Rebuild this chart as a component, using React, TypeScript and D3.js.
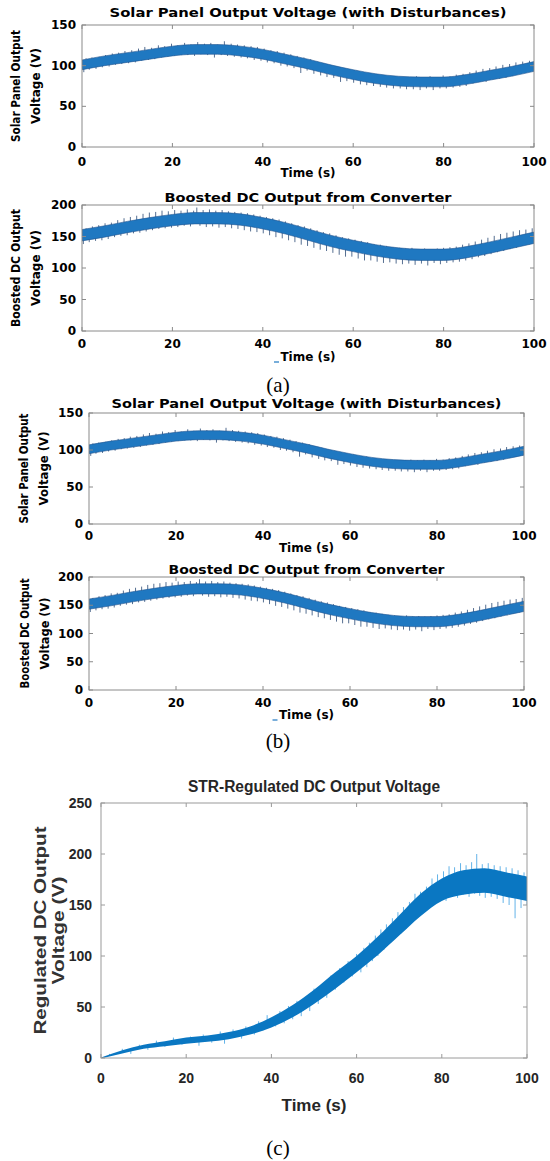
import React, { useRef, useEffect } from "react";
import * as d3 from "d3";

const timeSteps = [0, 5, 10, 15, 20, 25, 30, 35, 40, 45, 50, 55, 60, 65, 70, 75, 80, 85, 90, 95, 100];

const solarMid = [101, 106, 110, 114, 118, 120, 120, 118, 114, 108, 102, 95, 89, 84, 81, 80, 80, 83, 88, 93, 99];
const solarSpread = [6, 6, 6, 6, 6, 6, 6, 6, 6, 6, 6, 6, 6, 6, 6, 6, 6, 6, 6, 6, 6];
// visible noise peaks [t, V]
const solarSpikes = [
  [0.4, 92], [0.9, 109], [1.6, 95], [2.2, 110], [3.1, 96], [3.8, 111], [4.5, 98], [5.2, 113], [6.0, 99], [6.7, 115],
  [7.4, 101], [8.1, 116], [8.8, 102], [9.5, 118], [10.3, 103], [11.0, 119], [11.8, 104], [12.5, 121], [13.2, 106], [13.9, 123],
  [14.7, 107], [15.4, 122], [16.1, 108], [16.9, 125], [17.6, 110], [18.3, 124], [19.0, 111], [19.8, 127], [20.5, 112], [21.2, 125],
  [22.0, 113], [22.7, 128], [23.4, 113], [24.1, 126], [24.9, 112], [25.6, 129], [26.3, 114], [27.1, 127], [27.8, 113], [28.5, 128],
  [29.3, 110], [30.0, 126], [30.8, 113], [31.5, 130], [32.2, 112], [33.0, 127], [33.7, 111], [34.4, 126], [35.2, 110], [35.9, 125],
  [36.6, 109], [37.4, 124], [38.1, 107], [38.8, 123], [39.6, 106], [40.3, 121], [41.0, 104], [41.8, 119], [42.5, 103], [43.2, 118],
  [44.0, 100], [44.7, 116], [45.4, 99], [46.2, 114], [46.9, 97], [47.6, 112], [48.4, 91], [49.1, 110], [49.8, 94], [50.6, 108],
  [51.3, 90], [52.0, 105], [52.8, 88], [53.5, 103], [54.2, 86], [55.0, 101], [55.7, 85], [56.4, 99], [57.2, 80], [57.9, 97],
  [58.6, 81], [59.4, 95], [60.1, 79], [60.8, 94], [61.6, 77], [62.3, 92], [63.0, 76], [63.8, 91], [64.5, 75], [65.2, 89],
  [66.0, 74], [66.7, 88], [67.4, 73], [68.2, 87], [68.9, 72], [69.6, 86], [70.4, 72], [71.1, 86], [71.8, 71], [72.6, 86],
  [73.3, 71], [74.0, 87], [74.8, 70], [75.5, 86], [76.2, 72], [77.0, 87], [77.7, 70], [78.4, 86], [79.2, 72], [79.9, 88],
  [80.6, 72], [81.4, 87], [82.1, 73], [82.8, 89], [83.6, 74], [84.3, 90], [85.0, 75], [85.8, 92], [86.5, 78], [87.2, 94],
  [88.0, 80], [88.7, 96], [89.4, 80], [90.2, 97], [90.9, 83], [91.6, 99], [92.4, 84], [93.1, 101], [93.8, 85], [94.6, 102],
  [95.3, 87], [96.0, 104], [96.8, 90], [97.5, 105], [98.2, 91], [99.0, 106], [99.7, 93],
];

const boostMid = [152, 158, 165, 171, 176, 179, 179, 177, 171, 163, 153, 143, 135, 128, 123, 121, 121, 125, 132, 140, 148];
const boostSpread = [9, 9, 9, 9, 9, 9, 9, 9, 9, 9, 9, 9, 9, 9, 9, 9, 9, 9, 9, 9, 9];
const boostSpikes = [
  [0.3, 138], [0.9, 163], [1.6, 141], [2.3, 166], [3.0, 143], [3.7, 168], [4.4, 144], [5.1, 171], [5.8, 146], [6.5, 172],
  [7.2, 149], [7.9, 176], [8.6, 151], [9.3, 179], [10.0, 152], [10.7, 181], [11.4, 155], [12.1, 183], [12.8, 156], [13.5, 186],
  [14.2, 158], [14.9, 188], [15.6, 160], [16.3, 189], [17.0, 162], [17.7, 191], [18.4, 163], [19.1, 190], [19.8, 164], [20.5, 192],
  [21.2, 165], [21.9, 191], [22.6, 167], [23.3, 193], [24.0, 166], [24.7, 191], [25.4, 196], [26.1, 167], [26.8, 192], [27.5, 165],
  [28.2, 193], [28.9, 166], [29.6, 191], [30.3, 164], [31.0, 192], [31.7, 165], [32.4, 190], [33.1, 163], [33.8, 189], [34.5, 162],
  [35.2, 188], [35.9, 160], [36.6, 187], [37.3, 158], [38.0, 185], [38.7, 157], [39.4, 183], [40.1, 155], [40.8, 181], [41.5, 152],
  [42.2, 179], [42.9, 149], [43.6, 177], [44.3, 147], [45.0, 174], [45.7, 144], [46.4, 171], [47.1, 141], [47.8, 168], [48.5, 137],
  [49.2, 166], [49.9, 135], [50.6, 163], [51.3, 132], [52.0, 160], [52.7, 129], [53.4, 157], [54.1, 127], [54.8, 155], [55.5, 124],
  [56.2, 152], [56.9, 121], [57.6, 149], [58.3, 118], [59.0, 147], [59.7, 118], [60.4, 145], [61.1, 115], [61.8, 143], [62.5, 112],
  [63.2, 141], [63.9, 112], [64.6, 138], [65.3, 110], [66.0, 137], [66.7, 108], [67.4, 135], [68.1, 109], [68.8, 133], [69.5, 107],
  [70.2, 132], [70.9, 106], [71.6, 131], [72.3, 107], [73.0, 132], [73.7, 105], [74.4, 130], [75.1, 107], [75.8, 131], [76.5, 104],
  [77.2, 130], [77.9, 108], [78.6, 131], [79.3, 106], [80.0, 132], [80.7, 108], [81.4, 133], [82.1, 109], [82.8, 134], [83.5, 110],
  [84.2, 137], [84.9, 112], [85.6, 139], [86.3, 114], [87.0, 142], [87.7, 117], [88.4, 145], [89.1, 119], [89.8, 148], [90.5, 122],
  [91.2, 151], [91.9, 125], [92.6, 154], [93.3, 127], [94.0, 156], [94.7, 130], [95.4, 158], [96.1, 132], [96.8, 160], [97.5, 135],
  [98.2, 161], [98.9, 137], [99.6, 163],
];

const regMid = [0, 6, 11, 14, 17, 19, 22, 27, 35, 46, 60, 76, 92, 110, 130, 150, 165, 172, 174, 170, 166];
const regSpread = [0.5, 1.5, 2, 2.5, 3, 3, 3.5, 4, 5, 6, 7, 8, 8, 9, 10, 11, 11, 12, 12, 12, 12];
const regSpikes = [
  [2, 4], [5, 9], [7, 4], [9, 13], [11, 8], [13, 17], [15, 11], [17, 20], [19, 13], [21, 21],
  [23, 12], [24, 23], [26, 15], [28, 26], [29, 14], [31, 28], [33, 19], [34, 31], [36, 23], [37, 36],
  [38, 27], [39, 42], [41, 31], [42, 46], [43, 34], [44, 51], [45, 38], [46, 56], [47, 41], [48, 60],
  [49, 46], [50, 68], [51, 53], [52, 72], [53, 59], [54, 81], [55, 67], [56, 88], [57, 74], [58, 95],
  [59, 80], [60, 102], [61, 84], [61.7, 108], [62.4, 89], [63, 113], [63.7, 95], [64.4, 120], [65, 100], [65.7, 126],
  [66.4, 106], [67, 131], [67.7, 113], [68.4, 137], [69, 118], [69.7, 143], [70.4, 122], [71, 148], [71.7, 127], [72.4, 153],
  [73, 133], [73.7, 161], [74.4, 138], [75, 163], [75.7, 142], [76.4, 168], [77, 147], [77.7, 176], [78.4, 152], [79, 180],
  [79.7, 155], [80.4, 183], [81, 154], [81.7, 188], [82.4, 158], [83, 187], [83.7, 157], [84.4, 191], [85, 160], [85.7, 189],
  [86.4, 158], [87, 192], [87.7, 161], [88.2, 200], [88.9, 159], [89.5, 190], [90.2, 157], [90.9, 191], [91.6, 158], [92.3, 189],
  [93, 156], [93.7, 188], [94.4, 152], [95.1, 187], [95.8, 150], [96.5, 186], [97.2, 137], [97.9, 184], [98.6, 147], [99.3, 182],
  [100, 150],
];

const xTicks = [0, 20, 40, 60, 80, 100];
const ticks150 = [0, 50, 100, 150];
const ticks200 = [0, 50, 100, 150, 200];
const ticks250 = [0, 50, 100, 150, 200, 250];

const solarTitle = "Solar Panel Output Voltage (with Disturbances)";
const boostTitle = "Boosted DC Output from Converter";
const regTitle = "STR-Regulated DC Output Voltage";
const solarYLabel = ["Solar Panel Output", "Voltage (V)"];
const boostYLabel = ["Boosted DC Output", "Voltage (V)"];
const regYLabel = ["Regulated DC Output", "Voltage (V)"];
const xLabel = "Time (s)";

const series = {
  solar: { mid: solarMid, spread: solarSpread, spikes: solarSpikes },
  boost: { mid: boostMid, spread: boostSpread, spikes: boostSpikes },
  reg: { mid: regMid, spread: regSpread, spikes: regSpikes },
};

const panels = [
  { key: "solar", left: 82, right: 534, top: 25, bottom: 147, yTicks: ticks150, title: solarTitle, titleY: 13, titleLen: 397,
    yLab: solarYLabel, yLabX: [16, 36], yLabLen: [112, 76], tickY: 162, timeY: 173, style: "ab", mark: false },
  { key: "boost", left: 82, right: 534, top: 205, bottom: 331, yTicks: ticks200, title: boostTitle, titleY: 198, titleLen: 287,
    yLab: boostYLabel, yLabX: [16, 36], yLabLen: [118, 76], tickY: 344, timeY: 357, style: "ab", mark: true },
  { key: "solar", left: 89, right: 524, top: 413, bottom: 524, yTicks: ticks150, title: solarTitle, titleY: 404, titleLen: 390,
    yLab: solarYLabel, yLabX: [24, 44], yLabLen: [110, 74], tickY: 536, timeY: 548, style: "ab", mark: false },
  { key: "boost", left: 89, right: 524, top: 577, bottom: 690, yTicks: ticks200, title: boostTitle, titleY: 570, titleLen: 276,
    yLab: boostYLabel, yLabX: [25, 45], yLabLen: [110, 72], tickY: 703, timeY: 715, style: "ab", mark: true },
  { key: "reg", left: 101, right: 527, top: 803, bottom: 1058, yTicks: ticks250, title: regTitle, titleY: 786, titleLen: 252,
    yLab: regYLabel, yLabX: [40, 58], yLabLen: [208, 108], tickY: 1078, timeY: 1105, style: "c", mark: false },
];

const captions = [
  { text: "(a)", y: 385 },
  { text: "(b)", y: 741 },
  { text: "(c)", y: 1148 },
];

const App = () => {
  const svgRef = useRef(null);

  useEffect(() => {
    const svg = d3.select(svgRef.current);
    svg.selectAll("*").remove();

    panels.forEach((p, i) => {
      const s = series[p.key];
      const isC = p.style === "c";
      const font = isC ? "'Liberation Sans', Arial, sans-serif" : "'DejaVu Sans', sans-serif";
      const textColor = isC ? "#262626" : "#000";
      const bandColor = isC ? "#0a77c2" : "#1f78c1";
      const spikeColor = isC ? "#63b3e8" : "#1e3f6c";
      const frameColor = isC ? "#9a9a9a" : "#8a8a8a";

      const x = d3.scaleLinear().domain([0, 100]).range([p.left, p.right]);
      const yMax = p.yTicks[p.yTicks.length - 1];
      const y = d3.scaleLinear().domain([0, yMax]).range([p.bottom, p.top]);
      const midAt = d3.scaleLinear().domain(timeSteps).range(s.mid);

      const g = svg.append("g").attr("class", "panel-" + i);

      const clipId = "clip-" + i;
      g.append("clipPath").attr("id", clipId)
        .append("rect").attr("x", p.left).attr("y", p.top - 2)
        .attr("width", p.right - p.left).attr("height", p.bottom - p.top + 2);

      const plot = g.append("g").attr("clip-path", `url(#${clipId})`);

      plot.append("g")
        .selectAll("line")
        .data(s.spikes)
        .join("line")
        .attr("x1", (d) => x(d[0]))
        .attr("x2", (d) => x(d[0]))
        .attr("y1", (d) => y(midAt(d[0])))
        .attr("y2", (d) => y(d[1]))
        .attr("stroke", spikeColor)
        .attr("stroke-width", isC ? 1 : 0.75);

      const area = d3.area()
        .x((d, k) => x(timeSteps[k]))
        .y0((d, k) => y(s.mid[k] - s.spread[k]))
        .y1((d, k) => y(s.mid[k] + s.spread[k]))
        .curve(d3.curveMonotoneX);

      plot.append("path")
        .attr("d", area(s.mid))
        .attr("fill", bandColor)
        .attr("stroke", isC ? "none" : "#245590")
        .attr("stroke-width", 0.6);

      // frame with MATLAB-style inward ticks on all four sides
      g.append("rect")
        .attr("x", p.left).attr("y", p.top)
        .attr("width", p.right - p.left).attr("height", p.bottom - p.top)
        .attr("fill", "none").attr("stroke", frameColor).attr("stroke-width", 1);

      const tl = 4;
      xTicks.forEach((t) => {
        g.append("line").attr("x1", x(t)).attr("x2", x(t)).attr("y1", p.bottom).attr("y2", p.bottom - tl)
          .attr("stroke", frameColor);
        g.append("line").attr("x1", x(t)).attr("x2", x(t)).attr("y1", p.top).attr("y2", p.top + tl)
          .attr("stroke", frameColor);
      });
      p.yTicks.forEach((t) => {
        g.append("line").attr("x1", p.left).attr("x2", p.left + tl).attr("y1", y(t)).attr("y2", y(t))
          .attr("stroke", frameColor);
        g.append("line").attr("x1", p.right).attr("x2", p.right - tl).attr("y1", y(t)).attr("y2", y(t))
          .attr("stroke", frameColor);
      });

      const tickSize = isC ? 14 : 12;
      g.selectAll(".xtick")
        .data(xTicks)
        .join("text")
        .attr("class", "xtick")
        .attr("x", (d) => x(d))
        .attr("y", p.tickY)
        .attr("text-anchor", "middle")
        .attr("dominant-baseline", "central")
        .attr("font-family", font)
        .attr("font-weight", "bold")
        .attr("font-size", tickSize)
        .attr("fill", textColor)
        .text((d) => d);

      g.selectAll(".ytick")
        .data(p.yTicks)
        .join("text")
        .attr("class", "ytick")
        .attr("x", p.left - (isC ? 9 : 6))
        .attr("y", (d) => y(d))
        .attr("text-anchor", "end")
        .attr("dominant-baseline", "central")
        .attr("font-family", font)
        .attr("font-weight", "bold")
        .attr("font-size", tickSize)
        .attr("fill", textColor)
        .text((d) => d);

      const cx = (p.left + p.right) / 2;
      g.append("text")
        .attr("x", cx)
        .attr("y", p.titleY)
        .attr("text-anchor", "middle")
        .attr("dominant-baseline", "central")
        .attr("font-family", font)
        .attr("font-weight", "bold")
        .attr("font-size", isC ? 16 : 12)
        .attr("textLength", p.titleLen)
        .attr("lengthAdjust", "spacingAndGlyphs")
        .attr("fill", textColor)
        .text(p.title);

      g.append("text")
        .attr("x", cx)
        .attr("y", p.timeY)
        .attr("text-anchor", "middle")
        .attr("dominant-baseline", "central")
        .attr("font-family", font)
        .attr("font-weight", "bold")
        .attr("font-size", isC ? 17 : 12)
        .attr("fill", textColor)
        .text(xLabel);

      if (p.mark) {
        g.append("line")
          .attr("x1", cx - 34).attr("x2", cx - 29)
          .attr("y1", p.timeY + 5).attr("y2", p.timeY + 5)
          .attr("stroke", "#1f78c1").attr("stroke-width", 1.2);
      }

      const cy = (p.top + p.bottom) / 2;
      p.yLab.forEach((line, k) => {
        g.append("text")
          .attr("transform", `translate(${p.yLabX[k]},${cy}) rotate(-90)`)
          .attr("text-anchor", "middle")
          .attr("dominant-baseline", "central")
          .attr("font-family", font)
          .attr("font-weight", "bold")
          .attr("font-size", isC ? 17 : 12)
          .attr("textLength", p.yLabLen[k])
          .attr("lengthAdjust", "spacingAndGlyphs")
          .attr("fill", isC ? "#333" : "#000")
          .text(line);
      });
    });

    svg.selectAll(".caption")
      .data(captions)
      .join("text")
      .attr("class", "caption")
      .attr("x", 278)
      .attr("y", (d) => d.y)
      .attr("text-anchor", "middle")
      .attr("dominant-baseline", "central")
      .attr("font-family", "'Liberation Serif', 'Times New Roman', serif")
      .attr("font-size", 21)
      .attr("fill", "#000")
      .text((d) => d.text);
  }, []);

  return (
    <div style={{ position: "absolute", left: 0, top: 0 }}>
      <svg ref={svgRef} width={550} height={1161} style={{ display: "block", background: "#fff" }}></svg>
    </div>
  );
};

export default App;
